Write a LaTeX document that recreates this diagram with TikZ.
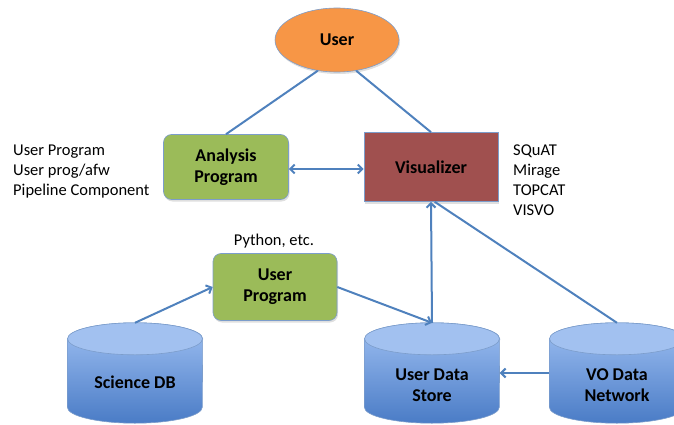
\documentclass[tikz,border=0pt]{standalone}
\usepackage{fontspec}
\setmainfont{Carlito}
\usetikzlibrary{shapes.geometric,arrows.meta,shadows}
\definecolor{wireblue}{HTML}{4F81BD}
\definecolor{rimblue}{HTML}{7C9DCB}
\definecolor{userorange}{HTML}{F79646}
\definecolor{proggreen}{HTML}{9BBB59}
\definecolor{vizred}{HTML}{A0504F}
\definecolor{dbtop}{HTML}{9EBFF2}
\definecolor{dbbottom}{HTML}{4A7CC6}
\definecolor{dblid}{HTML}{A2C1F0}

\begin{document}
\begin{tikzpicture}[x=1pt,y=1pt]
		\tikzstyle{every node}+=[inner sep=0pt]
		\tikzstyle{boxtext}=[font=\fontsize{18}{21}\selectfont\bfseries, align=center]
		\tikzstyle{sidetext}=[font=\fontsize{16.5}{20}\selectfont, align=left]
		\tikzstyle{shade}=[drop shadow={opacity=0.25, shadow xshift=1pt, shadow yshift=-2pt}]
		\tikzstyle{progbox}=[boxtext, rectangle, rounded corners=8pt, fill=proggreen, draw=rimblue, line width=0.6pt, shade]
		\tikzstyle{dbstore}=[rectangle, minimum width=135pt, minimum height=100pt]
		\tikzstyle{dbbody}=[top color=dbtop, bottom color=dbbottom, draw=rimblue, line width=0.6pt]
		\tikzstyle{dblidline}=[draw=rimblue, fill=dblid, line width=0.6pt]
		\tikzstyle{wire}=[draw=wireblue, line width=2pt]
		\tikzstyle{arrowed}=[-{Straight Barb[length=4.5pt,width=9pt]}]
		\tikzstyle{twoway}=[{Straight Barb[length=4.5pt,width=9pt]}-{Straight Barb[length=4.5pt,width=9pt]}]
		\useasboundingbox (0,0) rectangle (674,-425);
		% top: user and the two programs it uses
		\node [boxtext, ellipse, fill=userorange, draw=rimblue, line width=0.6pt, minimum width=124pt, minimum height=64pt, shade] (user) at (337,-40) {User};
		\node [progbox, minimum width=125pt, minimum height=65pt] (ana) at (226,-167) {Analysis\\Program};
		\node [boxtext, rectangle, fill=vizred, draw=rimblue, line width=0.6pt, minimum width=134pt, minimum height=69pt, shade] (viz) at (431,-167) {Visualizer};
		\node [progbox, minimum width=124pt, minimum height=67pt] (uprog) at (275,-287) {User\\Program};
		% data stores
		\node [dbstore] (sdb) at (135,-373) {};
		\node [dbstore] (uds) at (432,-373) {};
		\node [dbstore] (vo) at (617,-373) {};
		\foreach \db in {sdb,uds,vo} {
			\fill [black, opacity=0.15] ([xshift=1pt, yshift=-18pt]\db.south) ellipse (67.5 and 16);
			\path [dbbody] ([yshift=-16pt]\db.north west) -- ([yshift=16pt]\db.south west)
				arc [start angle=180, end angle=360, x radius=67.5, y radius=16]
				-- ([yshift=-16pt]\db.north east)
				arc [start angle=0, end angle=180, x radius=67.5, y radius=16] -- cycle;
			\draw [dblidline] ([yshift=-16pt]\db.north) ellipse (67.5 and 16);
		}
		\node [boxtext] (sdbtext) at (135,-382) {Science DB};
		\node [boxtext] (udstext) at (432,-385) {User Data\\Store};
		\node [boxtext] (votext) at (617,-385) {VO Data\\Network};
		% side notes
		\node [sidetext, anchor=base west] (anaext) at (13,-195) {User Program\\User prog/afw\\Pipeline Component};
		\node [sidetext, anchor=base west] (vizext) at (513,-215) {SQuAT\\Mirage\\TOPCAT\\VISVO};
		\node [sidetext, anchor=base] (uprogext) at (274,-245) {Python, etc.};
		% connectors
		\draw [wire] (user.-122) -- (ana.north);
		\draw [wire] (user.-58) -- (viz.north);
		\draw [wire, twoway] ([yshift=-2pt]ana.east) -- ([yshift=-2pt]viz.west);
		\draw [wire, arrowed] (sdb.north) -- (uprog.west);
		\draw [wire, arrowed] (uprog.east) -- (uds.north);
		\draw [wire, arrowed] (uds.north) -- (viz.south);
		\draw [wire] (vo.north) -- (viz.-84);
		\draw [wire, arrowed] (vo.west) -- (uds.east);
\end{tikzpicture}
\end{document}
